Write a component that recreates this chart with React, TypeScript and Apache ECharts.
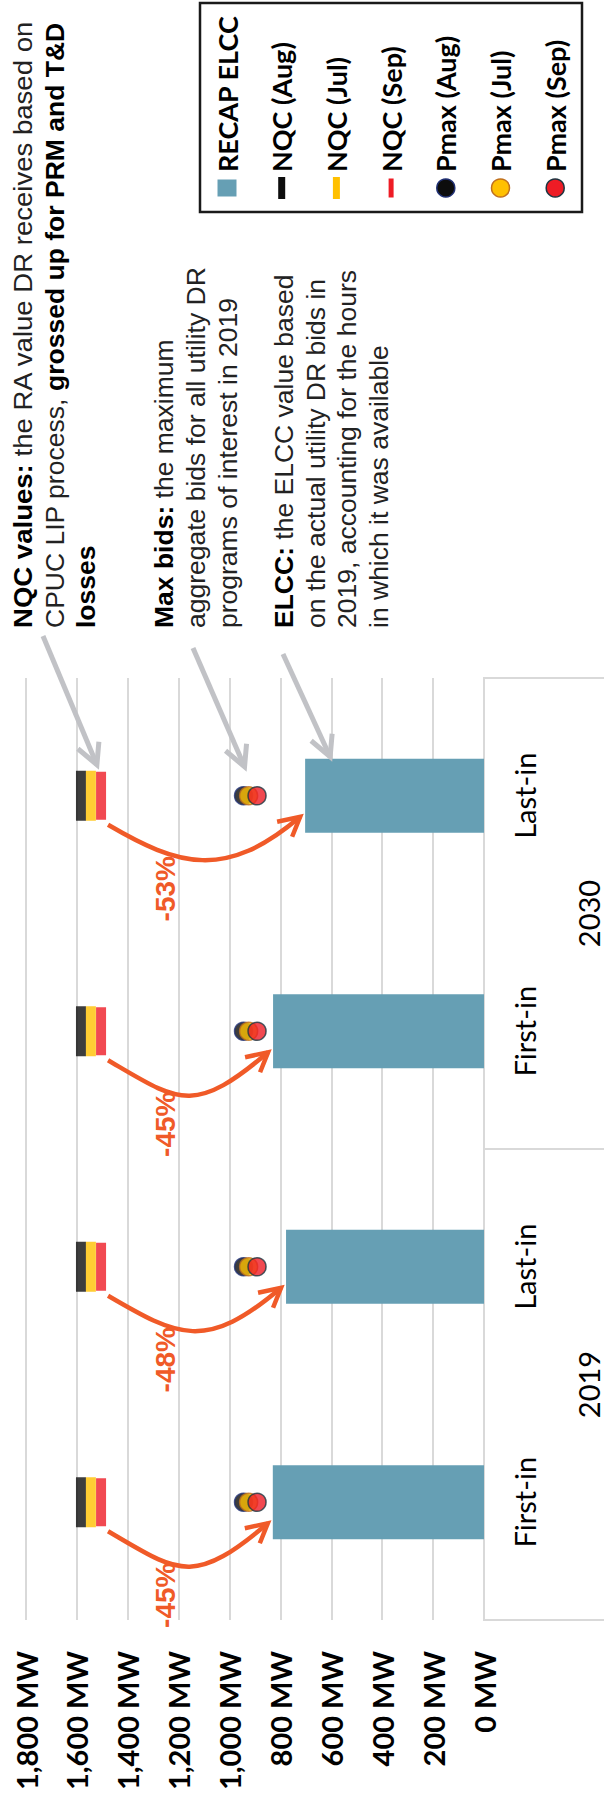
import React, { useEffect, useRef } from 'react';
import * as echarts from 'echarts';

// ---------- data ----------
const categories = ['First-in|2019', 'Last-in|2019', 'First-in|2030', 'Last-in|2030'];
const groupLabels = ['2019', '2030'];
const recapElcc = [830, 778, 829, 703];
const nqcAug = [1584, 1584, 1584, 1584];
const nqcJul = [1545, 1545, 1545, 1545];
const nqcSep = [1505, 1505, 1505, 1505];
const pmaxAug = [945, 945, 945, 945];
const pmaxJul = [925, 925, 925, 925];
const pmaxSep = [892, 892, 892, 892];
const reductionLabels = ['-45%', '-48%', '-45%', '-53%'];
const valueMin = 0;
const valueMax = 1800;
const valueStep = 200;

const legendNames = ['RECAP ELCC', 'NQC (Aug)', 'NQC (Jul)', 'NQC (Sep)', 'Pmax (Aug)', 'Pmax (Jul)', 'Pmax (Sep)'];

const noteNQC = [
  '{b|NQC values:} the RA value DR receives based on',
  'CPUC LIP process, {b|grossed up for PRM and T&D}',
  '{b|losses}',
];
const noteMax = [
  '{b|Max bids:} the maximum',
  'aggregate bids for all utility DR',
  'programs of interest in 2019',
];
const noteELCC = [
  '{b|ELCC:} the ELCC value based',
  'on the actual utility DR bids in',
  '2019, accounting for the hours',
  'in which it was available',
];

// ---------- styles ----------
const TEAL = '#669FB4';
const ORANGE = '#F05A28';
const GREY_ARROW = '#C1C2C6';
const GRID = '#D9D9D9';
const BLACK = '#0D0D0D';
const YELLOW = '#FFC000';
const RED = '#EE1C25';
const CHART_FONT = 'Lato, "Liberation Sans", Arial, sans-serif';
const NOTE_FONT = '"Liberation Sans", Arial, sans-serif';
const ROT = Math.PI / 2;

function buildOption(): any {
  const pt = (arr: number[]) => arr.map((v, i) => [v, i]);
  return {
    animation: false,
    backgroundColor: '#ffffff',
    legend: { show: false },
    grid: { left: 26, right: 120, top: 678, bottom: 176, containLabel: false },
    xAxis: {
      type: 'value',
      inverse: true,
      min: valueMin,
      max: valueMax,
      interval: valueStep,
      position: 'bottom',
      axisLine: { show: false },
      axisTick: { show: false },
      splitLine: { show: true, lineStyle: { color: GRID, width: 2 } },
      axisLabel: {
        rotate: 90,
        margin: 31,
        fontSize: 29,
        fontWeight: 'bold',
        fontFamily: CHART_FONT,
        color: '#000',
        formatter: (v: number) => v.toLocaleString('en-US') + ' MW',
      },
    },
    yAxis: {
      type: 'category',
      position: 'right',
      data: categories,
      axisLine: { show: true, lineStyle: { color: GRID, width: 2 } },
      axisTick: { show: false },
      splitLine: { show: false },
      axisLabel: {
        rotate: 90,
        margin: 26,
        fontSize: 29,
        fontFamily: CHART_FONT,
        color: '#000',
        formatter: (v: string) => v.split('|')[0],
      },
    },
    series: [
      {
        name: 'RECAP ELCC', type: 'bar', data: recapElcc, barWidth: 74,
        itemStyle: { color: TEAL }, silent: true,
      },
      {
        name: 'NQC (Aug)', type: 'scatter', data: pt(nqcAug), symbol: 'rect', symbolSize: [10, 50],
        itemStyle: { color: BLACK }, silent: true, z: 3,
      },
      {
        name: 'NQC (Jul)', type: 'scatter', data: pt(nqcJul), symbol: 'rect', symbolSize: [10, 50],
        itemStyle: { color: YELLOW }, silent: true, z: 4,
      },
      {
        name: 'NQC (Sep)', type: 'scatter', data: pt(nqcSep), symbol: 'rect', symbolSize: [10, 48],
        itemStyle: { color: RED }, silent: true, z: 5,
      },
      {
        name: 'Pmax (Aug)', type: 'scatter', data: pt(pmaxAug), symbol: 'circle', symbolSize: 18,
        itemStyle: { color: BLACK, borderColor: '#1F2F73', borderWidth: 1.5 }, silent: true, z: 6,
      },
      {
        name: 'Pmax (Jul)', type: 'scatter', data: pt(pmaxJul), symbol: 'circle', symbolSize: 18,
        itemStyle: { color: YELLOW, borderColor: '#C0701E', borderWidth: 1.5 }, silent: true, z: 7,
      },
      {
        name: 'Pmax (Sep)', type: 'scatter', data: pt(pmaxSep), symbol: 'circle', symbolSize: 18,
        itemStyle: { color: RED, borderColor: '#1E3440', borderWidth: 1.5 }, silent: true, z: 8,
      },
    ],
  };
}

function buildGraphics(chart: any): any[] {
  const toPx = (v: number, i: number) => chart.convertToPixel({ gridIndex: 0 }, [v, i]) as number[];
  const g: any[] = [];
  const Z = 50;
  const W = 604;

  const cy = categories.map((_, i) => toPx(0, i)[1]);
  const axisX = toPx(0, 0)[0];
  const band = cy[0] - cy[1];

  // multi-level category separators
  const bounds = [cy[0] + band / 2, (cy[1] + cy[2]) / 2, cy[3] - band / 2];
  bounds.forEach((y) =>
    g.push({ type: 'line', z: Z, silent: true, shape: { x1: axisX - 1, y1: y, x2: W, y2: y }, style: { stroke: GRID, lineWidth: 2 } })
  );

  // group labels
  groupLabels.forEach((t, k) => {
    const y = (cy[2 * k] + cy[2 * k + 1]) / 2;
    g.push({
      type: 'text', z: Z, silent: true, x: 588, y, rotation: ROT,
      style: { text: t, fontSize: 29, fontFamily: CHART_FONT, fill: '#000', align: 'center', verticalAlign: 'middle' },
    });
  });

  // orange reduction arrows
  categories.forEach((_, i) => {
    const c = cy[i];
    const sx = toPx(nqcSep[i], i)[0] + 7;
    const tx = toPx(recapElcc[i], i)[0] - 5;
    const sy = c + 29;
    const ty = c + 21;
    g.push({
      type: 'bezierCurve', z: Z, silent: true,
      shape: { x1: sx, y1: sy, cpx1: sx + 70, cpy1: c + 70, cpx2: tx - 75, cpy2: c + 85, x2: tx, y2: ty },
      style: { stroke: ORANGE, lineWidth: 4.5, fill: 'none' },
    });
    g.push({
      type: 'polyline', z: Z, silent: true,
      shape: { points: [[tx - 23, ty + 5], [tx, ty], [tx - 8, ty + 20]] },
      style: { stroke: ORANGE, lineWidth: 4.5, fill: 'none' },
    });
    g.push({
      type: 'text', z: Z + 1, silent: true, x: sx + 57, y: c + 93, rotation: ROT,
      style: {
        text: reductionLabels[i], fontSize: 28, fontWeight: 'bold', fontFamily: NOTE_FONT,
        fill: ORANGE, align: 'center', verticalAlign: 'middle',
      },
    });
  });

  // grey pointer arrows (to the top category)
  const top = cy[3];
  const tips = [
    [toPx(nqcJul[3], 3)[0] + 6, top - 31],
    [toPx(pmaxAug[3], 3)[0] + 1, top - 29],
    [toPx(recapElcc[3], 3)[0] + 25, top - 39],
  ];
  const starts = [[43, 636], [193, 648], [283, 654]];
  tips.forEach((tp, k) => {
    const s = starts[k];
    g.push({
      type: 'line', z: Z, silent: true,
      shape: { x1: s[0], y1: s[1], x2: tp[0], y2: tp[1] },
      style: { stroke: GREY_ARROW, lineWidth: 5 },
    });
    g.push({
      type: 'polyline', z: Z, silent: true,
      shape: { points: [[tp[0] - 19, tp[1] - 16], [tp[0], tp[1]], [tp[0] + 2, tp[1] - 23]] },
      style: { stroke: GREY_ARROW, lineWidth: 5, fill: 'none' },
    });
  });

  // annotation texts (rotated)
  const rich = { b: { fontWeight: 'bold', fontSize: 26.5, fontFamily: NOTE_FONT, fill: '#000' } };
  const addNote = (lines: string[], xs: number[], stretch: number[] = []) => {
    lines.forEach((t, k) =>
      g.push({
        type: 'text', z: Z, silent: true, x: xs[k], y: 628, rotation: ROT,
        scaleX: stretch[k] || 1,
        style: {
          text: t, rich, fontSize: 26.5, fontFamily: NOTE_FONT, fill: '#222',
          align: 'left', verticalAlign: 'middle',
        },
      })
    );
  };
  addNote(noteNQC, [23, 54.5, 86], [1.04, 1, 1]);
  addNote(noteMax, [164, 196, 228]);
  addNote(noteELCC, [284, 316, 347, 379]);

  // legend box
  g.push({
    type: 'rect', z: Z, silent: true,
    shape: { x: 200, y: 3, width: 382, height: 209 },
    style: { fill: 'none', stroke: '#1A1A1A', lineWidth: 2.5 },
  });
  const lx0 = 227;
  const ldx = 54.7;
  const my = 188;
  legendNames.forEach((name, k) => {
    const cx = lx0 + k * ldx;
    if (k === 0) {
      g.push({ type: 'rect', z: Z, silent: true, shape: { x: cx - 9.5, y: my - 8.5, width: 19, height: 17 }, style: { fill: TEAL } });
    } else if (k <= 3) {
      const col = [BLACK, YELLOW, RED][k - 1];
      const w = k === 3 ? 5 : 7;
      const h = k === 3 ? 19 : 22;
      g.push({ type: 'rect', z: Z, silent: true, shape: { x: cx - w / 2, y: my - h / 2, width: w, height: h }, style: { fill: col } });
    } else {
      const fill = [BLACK, YELLOW, RED][k - 4];
      const stroke = ['#1F2F73', '#C0701E', '#1E3440'][k - 4];
      g.push({ type: 'circle', z: Z, silent: true, shape: { cx, cy: my, r: 9 }, style: { fill, stroke, lineWidth: 1.5 } });
    }
    g.push({
      type: 'text', z: Z, silent: true, x: cx, y: 172, rotation: ROT,
      style: {
        text: name, fontSize: 27, fontWeight: 'bold', fontFamily: CHART_FONT, fill: '#000',
        align: 'left', verticalAlign: 'middle',
      },
    });
  });

  return g;
}

export default function App() {
  const ref = useRef<HTMLDivElement>(null);
  useEffect(() => {
    if (!ref.current) return;
    const chart = echarts.init(ref.current, null, { renderer: 'svg' });
    chart.setOption(buildOption());
    chart.setOption({ graphic: { elements: buildGraphics(chart) } });
    return () => chart.dispose();
  }, []);
  return (
    <div
      ref={ref}
      style={{ position: 'absolute', left: 0, top: 0, width: 604, height: 1796, background: '#fff' }}
    />
  );
}
